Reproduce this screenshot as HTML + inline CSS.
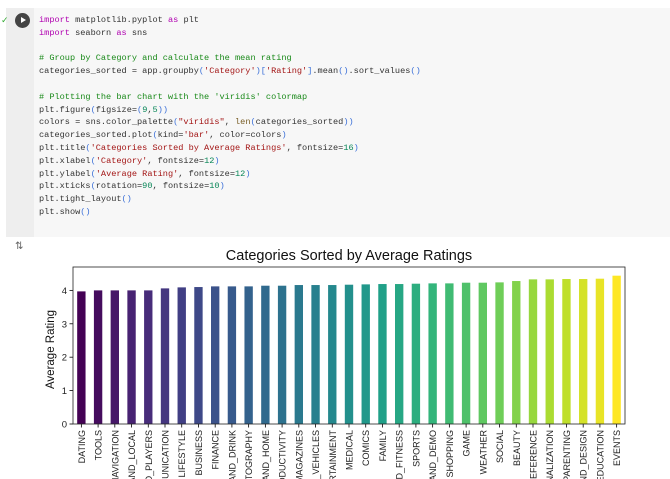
<!DOCTYPE html>
<html style="overflow:hidden;height:479px"><head><meta charset="utf-8"><style>
body{margin:0;width:670px;height:479px;overflow:hidden;background:#fff;font-family:"Liberation Sans",sans-serif;position:relative}
#cell{position:absolute;left:6px;top:8px;width:664px;height:229px;background:#f7f7f7}
#gutter{position:absolute;left:6px;top:8px;width:28px;height:229px;background:#eeeeee}
#code{position:absolute;left:39px;top:14px;font-family:"Liberation Mono",monospace;font-size:8.6px;line-height:12.8px;color:#333;white-space:pre}
.k{color:#b000b0}.c{color:#1a8a1a}.s{color:#a31515}.n{color:#098658}.p{color:#3a6fd8}
#run{position:absolute;left:15px;top:13px;width:15px;height:15px;border-radius:50%;background:#444}
#run:after{content:"";position:absolute;left:6px;top:4px;border-left:5px solid #fff;border-top:3.5px solid transparent;border-bottom:3.5px solid transparent}
</style></head><body>
<div id="cell"></div>
<div id="gutter"></div>
<div id="run"></div>
<div style="position:absolute;left:1px;top:15px;font-size:9px;color:#3a3">✓</div>
<div id="code"><span class="k">import</span> matplotlib.pyplot <span class="k">as</span> plt
<span class="k">import</span> seaborn <span class="k">as</span> sns

<span class="c"># Group by Category and calculate the mean rating</span>
categories_sorted = app.groupby<span class="p">(</span><span class="s">'Category'</span><span class="p">)[</span><span class="s">'Rating'</span><span class="p">]</span>.mean<span class="p">()</span>.sort_values<span class="p">()</span>

<span class="c"># Plotting the bar chart with the 'viridis' colormap</span>
plt.figure<span class="p">(</span>figsize=<span class="p">(</span><span class="n">9</span>,<span class="n">5</span><span class="p">))</span>
colors = sns.color_palette<span class="p">(</span><span class="s">"viridis"</span>, <span style="color:#795e26">len</span><span class="p">(</span>categories_sorted<span class="p">))</span>
categories_sorted.plot<span class="p">(</span>kind=<span class="s">'bar'</span>, color=colors<span class="p">)</span>
plt.title<span class="p">(</span><span class="s">'Categories Sorted by Average Ratings'</span>, fontsize=<span class="n">16</span><span class="p">)</span>
plt.xlabel<span class="p">(</span><span class="s">'Category'</span>, fontsize=<span class="n">12</span><span class="p">)</span>
plt.ylabel<span class="p">(</span><span class="s">'Average Rating'</span>, fontsize=<span class="n">12</span><span class="p">)</span>
plt.xticks<span class="p">(</span>rotation=<span class="n">90</span>, fontsize=<span class="n">10</span><span class="p">)</span>
plt.tight_layout<span class="p">()</span>
plt.show<span class="p">()</span></div>
<div style="position:absolute;left:15px;top:241px;font-size:10px;color:#666">⇅</div>
<svg id="chart" width="670" height="479" style="position:absolute;left:0;top:0;overflow:hidden"><defs><clipPath id="cp"><rect x="0" y="0" width="670" height="479"/></clipPath></defs><g id="g" clip-path="url(#cp)"></g></svg>
<script>
const categories=["DATING","TOOLS","MAPS_AND_NAVIGATION","TRAVEL_AND_LOCAL","VIDEO_PLAYERS","COMMUNICATION","LIFESTYLE","BUSINESS","FINANCE","FOOD_AND_DRINK","PHOTOGRAPHY","HOUSE_AND_HOME","PRODUCTIVITY","NEWS_AND_MAGAZINES","AUTO_AND_VEHICLES","ENTERTAINMENT","MEDICAL","COMICS","FAMILY","HEALTH_AND_FITNESS","SPORTS","LIBRARIES_AND_DEMO","SHOPPING","GAME","WEATHER","SOCIAL","BEAUTY","BOOKS_AND_REFERENCE","PERSONALIZATION","PARENTING","ART_AND_DESIGN","EDUCATION","EVENTS"];
const ratings=[3.97,4.00,4.00,4.00,4.00,4.06,4.09,4.10,4.12,4.12,4.12,4.14,4.14,4.16,4.16,4.16,4.17,4.18,4.19,4.19,4.20,4.21,4.21,4.23,4.23,4.24,4.28,4.33,4.33,4.34,4.34,4.35,4.44];
const yTicks=[0,1,2,3,4];
const NS="http://www.w3.org/2000/svg",svg=document.getElementById('g');
const L=73,R=625,T=267,B=424,YMAX=4.70;
const x=i=>L+(i+0.5)*(R-L)/categories.length;
const y=v=>B-v/YMAX*(B-T);
const vir=[[68,1,84],[72,40,120],[62,74,137],[49,104,142],[38,130,142],[31,158,137],[53,183,121],[109,205,89],[180,222,44],[253,231,37]];
function col(t){const p=t*(vir.length-1),i=Math.min(Math.floor(p),vir.length-2),f=p-i;return 'rgb('+vir[i].map((c,k)=>Math.round(c+(vir[i+1][k]-c)*f)).join(',')+')';}
function el(tag,a,txt){const e=document.createElementNS(NS,tag);for(const k in a)e.setAttribute(k,a[k]);if(txt!=null)e.textContent=txt;svg.appendChild(e);return e;}
const bw=0.5*(R-L)/categories.length;
ratings.forEach((v,i)=>{
 const r=el('rect',{x:x(i)-bw/2,y:y(v),width:bw,height:B-y(v),fill:col(i/(ratings.length-1))});
 
 
 const t=el('line',{x1:x(i),x2:x(i),y1:B,y2:B+3.5,stroke:'#000','stroke-width':0.8});
 
 
 const lb=el('text',{x:0,y:0,transform:`translate(${x(i)+3.5},${B+6}) rotate(-90)`,'text-anchor':'end','font-size':9,fill:'#222'},categories[i]);
 
 
});
yTicks.forEach(v=>{
 const t=el('line',{x1:L-3.5,x2:L,y1:y(v),y2:y(v),stroke:'#000','stroke-width':0.8});
 
 
 const lb=el('text',{x:L-6,y:y(v)+3.5,'text-anchor':'end','font-size':9.5,fill:'#222'},v);
 
 
});
const fr=el('rect',{x:L,y:T,width:R-L,height:B-T,fill:'none',stroke:'#222','stroke-width':0.8});


const ti=el('text',{x:(L+R)/2,y:260,'text-anchor':'middle','font-size':14.5,fill:'#111'},'Categories Sorted by Average Ratings');


const yl=el('text',{x:0,y:0,transform:`translate(54,${(T+B)/2+4}) rotate(-90)`,'text-anchor':'middle','font-size':11.5,fill:'#111'},'Average Rating');


</script>
</body></html>
